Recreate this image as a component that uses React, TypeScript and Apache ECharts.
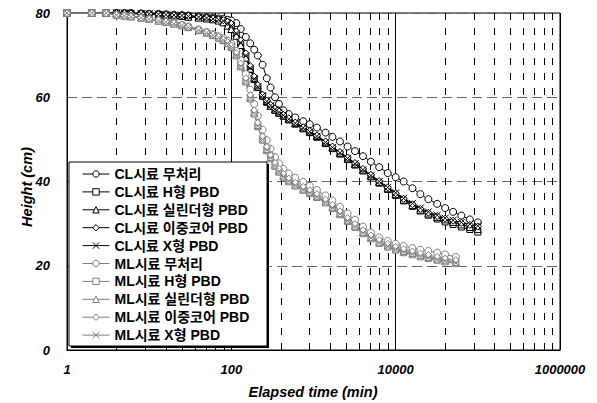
import React, { useEffect, useRef } from "react";
import * as echarts from "echarts";

// Elapsed time (min) of the readings
const timesCL = [1, 2, 3, 4, 5, 6, 8, 10, 13, 16, 20, 25, 30, 40, 50, 60, 70, 80, 90, 100,
  115, 130, 150, 170, 190, 210, 240, 270, 300, 340, 380, 430, 500, 600, 750, 900, 1100, 1400, 1700, 2100,
  2600, 3200, 4000, 5000, 6300, 8000, 10000, 12500, 16000, 20000, 25000, 32000, 40000, 50000, 63000, 80000, 100000];
const timesML = [1, 2, 3, 4, 5, 6, 8, 10, 13, 16, 20, 25, 30, 40, 50, 60, 70, 80, 90, 100,
  115, 130, 150, 170, 190, 210, 240, 270, 300, 340, 380, 430, 500, 600, 750, 900, 1100, 1400, 1700, 2100,
  2600, 3200, 4000, 5000, 6300, 8000, 10000, 12500, 16000, 20000, 25000, 32000, 40000, 54000];

// Height (cm)
const clNone = [80, 80, 80, 80, 80, 80, 79.9, 79.8, 79.8, 79.7, 79.6, 79.5, 79.4, 79.2, 79.0, 78.9, 78.7, 78.6, 78.4, 78.2,
  77.6, 76.2, 74.3, 72.8, 71.3, 69.9, 67.7, 64.5, 62.3, 60.0, 58.4, 56.9, 56.0, 55.2, 54.3, 53.6, 52.8, 51.6, 50.6, 49.5,
  48.3, 47.2, 46.0, 44.7, 43.4, 42.0, 41.0, 40.0, 38.4, 37.0, 35.8, 34.7, 33.7, 32.8, 31.9, 31.0, 30.3];
const clH = [80, 80, 80, 80, 79.9, 79.9, 79.8, 79.7, 79.6, 79.5, 79.4, 79.3, 79.2, 79.0, 78.8, 78.6, 78.4, 78.1, 77.7, 77.0,
  75.0, 72.8, 69.6, 66.6, 64.2, 62.3, 60.2, 58.8, 57.8, 56.9, 56.2, 55.5, 54.6, 53.6, 52.5, 51.6, 50.5, 49.0, 47.8, 46.5,
  45.2, 43.9, 42.5, 41.1, 39.6, 38.1, 36.7, 35.4, 34.1, 33.0, 32.0, 31.1, 30.4, 29.8, 29.2, 28.6, 28.0];
const clCyl = [80, 80, 80, 80, 79.9, 79.9, 79.8, 79.7, 79.6, 79.5, 79.4, 79.3, 79.1, 78.9, 78.7, 78.5, 78.2, 77.8, 77.0, 76.2,
  74.6, 72.4, 69.4, 66.8, 64.6, 62.8, 60.6, 59.1, 58.0, 57.1, 56.4, 55.7, 54.9, 53.9, 52.8, 51.9, 50.8, 49.3, 48.1, 46.8,
  45.5, 44.2, 42.8, 41.4, 39.9, 38.4, 37.0, 35.7, 34.4, 33.3, 32.4, 31.6, 31.0, 30.4, 29.8, 29.2, 28.7];
const clDual = [80, 80, 80, 80, 80, 79.9, 79.9, 79.8, 79.7, 79.6, 79.5, 79.4, 79.3, 79.1, 78.9, 78.7, 78.5, 78.3, 77.9, 77.4,
  75.6, 73.5, 70.4, 67.4, 64.9, 62.9, 60.6, 59.2, 58.2, 57.3, 56.6, 55.8, 55.0, 54.0, 52.9, 52.0, 50.9, 49.5, 48.3, 47.0,
  45.7, 44.4, 43.0, 41.6, 40.1, 38.6, 37.2, 35.9, 34.6, 33.5, 32.6, 31.8, 31.2, 30.7, 30.2, 29.7, 29.3];
const clX = [80, 80, 80, 80, 80, 79.9, 79.8, 79.8, 79.7, 79.6, 79.5, 79.4, 79.2, 79.0, 78.8, 78.6, 78.4, 78.1, 77.6, 77.0,
  75.2, 73.0, 69.9, 66.9, 64.4, 62.5, 60.4, 59.0, 58.0, 57.1, 56.4, 55.7, 54.8, 53.8, 52.7, 51.8, 50.7, 49.3, 48.1, 46.8,
  45.5, 44.2, 42.8, 41.4, 40.0, 38.6, 37.3, 36.0, 34.8, 33.7, 32.8, 32.0, 31.3, 30.8, 30.3, 29.9, 29.5];
const mlNone = [80, 80, 80, 79.6, 79.4, 79.2, 78.9, 78.6, 78.3, 78.0, 77.6, 77.2, 76.8, 76.1, 75.5, 75.0, 74.5, 74.0, 73.4, 72.7,
  71.0, 68.8, 65.5, 61.8, 58.4, 55.6, 52.3, 49.8, 47.8, 45.8, 44.3, 43.0, 41.9, 40.9, 39.9, 39.0, 38.0, 36.7, 35.5, 34.0,
  32.4, 30.9, 29.3, 27.9, 26.7, 25.9, 25.2, 24.7, 24.2, 23.8, 23.5, 23.1, 22.7, 22.1];
const mlH = [80, 80, 80, 79.5, 79.3, 79.1, 78.8, 78.5, 78.1, 77.8, 77.4, 77.0, 76.5, 75.8, 75.2, 74.6, 74.0, 73.4, 72.7, 71.8,
  69.8, 67.2, 63.6, 59.6, 56.0, 53.0, 49.8, 47.3, 45.4, 43.6, 42.2, 41.0, 39.9, 38.9, 37.9, 37.1, 36.2, 34.9, 33.6, 32.1,
  30.5, 29.1, 27.6, 26.4, 25.3, 24.4, 23.7, 23.1, 22.6, 22.1, 21.7, 21.3, 20.9, 20.5];
const mlCyl = [80, 80, 80, 79.6, 79.4, 79.2, 78.9, 78.6, 78.2, 77.9, 77.5, 77.1, 76.7, 76.0, 75.4, 74.8, 74.2, 73.6, 72.9, 72.1,
  70.2, 67.6, 64.0, 60.0, 56.4, 53.4, 50.2, 47.7, 45.8, 44.0, 42.6, 41.4, 40.3, 39.3, 38.3, 37.5, 36.6, 35.3, 34.0, 32.5,
  30.9, 29.5, 28.0, 26.8, 25.7, 24.8, 24.1, 23.5, 23.0, 22.5, 22.1, 21.7, 21.3, 20.9];
const mlDual = [80, 80, 80, 79.6, 79.4, 79.2, 78.9, 78.6, 78.3, 78.0, 77.6, 77.2, 76.8, 76.1, 75.5, 74.9, 74.3, 73.7, 73.1, 72.3,
  70.5, 68.0, 64.5, 60.5, 56.9, 53.9, 50.7, 48.2, 46.2, 44.4, 43.0, 41.8, 40.7, 39.7, 38.7, 37.9, 37.0, 35.7, 34.4, 32.9,
  31.3, 29.9, 28.4, 27.2, 26.1, 25.2, 24.5, 23.9, 23.4, 22.9, 22.5, 22.1, 21.7, 21.3];
const mlX = [80, 80, 80, 79.5, 79.3, 79.1, 78.8, 78.5, 78.1, 77.8, 77.4, 77.0, 76.6, 75.9, 75.3, 74.7, 74.1, 73.5, 72.8, 72.0,
  70.0, 67.4, 63.8, 59.8, 56.2, 53.2, 50.0, 47.5, 45.6, 43.8, 42.4, 41.2, 40.1, 39.1, 38.1, 37.3, 36.4, 35.1, 33.8, 32.3,
  30.7, 29.3, 27.8, 26.6, 25.5, 24.6, 23.9, 23.3, 22.8, 22.3, 21.9, 21.5, 21.1, 20.7];

const seriesNames = [
  "CL시료 무처리", "CL시료 H형 PBD", "CL시료 실린더형 PBD", "CL시료 이중코어 PBD", "CL시료 X형 PBD",
  "ML시료 무처리", "ML시료 H형 PBD", "ML시료 실린더형 PBD", "ML시료 이중코어 PBD", "ML시료 X형 PBD",
];
const yTicks = [0, 20, 40, 60, 80];
const minorGridX = [4, 9, 16, 25, 36, 49, 64, 81, 400, 900, 1600, 2500, 3600, 4900, 6400, 8100,
  40000, 90000, 160000, 250000, 360000, 490000, 640000, 810000];
const xTitle = "Elapsed time (min)";
const yTitle = "Height (cm)";

const X_PATH = "path://M0,0L10,10M0,10L10,0";
const FONT = "'Liberation Sans', Arial, 'Noto Sans CJK KR', sans-serif";

export default function App() {
  const ref = useRef<HTMLDivElement>(null);
  useEffect(() => {
    const chart = echarts.init(ref.current!, null, { renderer: "svg" });
    const groups = [
      { times: timesCL, sets: [clNone, clH, clCyl, clDual, clX], color: "#000000" },
      { times: timesML, sets: [mlNone, mlH, mlCyl, mlDual, mlX], color: "#808080" },
    ];
    const symbols = ["circle", "rect", "triangle", "diamond", X_PATH];
    const sizes = [7, 6, 7, 7, 7];
    const series: any[] = [];
    groups.forEach((g, gi) => {
      g.sets.forEach((vals, si) => {
        const s: any = {
          name: seriesNames[gi * 5 + si],
          type: "line",
          data: g.times.map((t, i) => [t, vals[i]]),
          symbol: symbols[si],
          symbolSize: sizes[si],
          showAllSymbol: true,
          lineStyle: { color: g.color, width: 1 },
          itemStyle: { color: si === 4 ? g.color : "#ffffff", borderColor: g.color, borderWidth: 1 },
          emphasis: { disabled: true },
          z: 3,
        };
        if (gi === 0 && si === 0) {
          s.markLine = {
            silent: true,
            symbol: "none",
            z: 1,
            label: { show: false },
            lineStyle: { color: "#000", type: [7, 8], width: 1 },
            data: minorGridX.map((v) => ({ xAxis: v })),
          };
        }
        series.push(s);
      });
    });
    const titleStyle = { fontFamily: FONT, fontSize: 14.5, fontWeight: "bold", fontStyle: "italic", fill: "#000", align: "center", verticalAlign: "middle" };
    chart.setOption({
      animation: false,
      grid: { left: 67, right: 37, top: 13, bottom: 53, show: true, borderColor: "#000", borderWidth: 1 },
      xAxis: {
        type: "log",
        logBase: 100,
        min: 1,
        max: 1000000,
        axisLine: { lineStyle: { color: "#000" } },
        axisTick: { show: false },
        axisLabel: {
          margin: 13,
          fontFamily: FONT, fontSize: 13, fontWeight: "bold", fontStyle: "italic", color: "#000",
          formatter: (v: number) => String(Math.round(v)),
        },
        splitLine: { show: true, lineStyle: { color: "#000", width: 1 } },
      },
      yAxis: {
        type: "value",
        min: yTicks[0],
        max: yTicks[yTicks.length - 1],
        interval: 20,
        axisLine: { show: true, lineStyle: { color: "#000" } },
        axisTick: { show: false },
        axisLabel: { margin: 17, fontFamily: FONT, fontSize: 13, fontWeight: "bold", fontStyle: "italic", color: "#000" },
        splitLine: { show: true, lineStyle: { color: "#666", type: [10, 5], width: 1 } },
      },
      legend: {
        data: seriesNames,
        orient: "vertical",
        left: 82,
        top: 167,
        padding: 0,
        itemWidth: 27,
        itemHeight: 8,
        itemGap: 3.9,
        selectedMode: false,
        z: 30,
        lineStyle: { width: 1 },
        itemStyle: { borderWidth: 1 },
        textStyle: { fontFamily: FONT, fontSize: 14, fontWeight: "bold", color: "#000", lineHeight: 14 },
      },
      graphic: [
        { type: "rect", z: 20, shape: { x: 71, y: 164, width: 198, height: 184 }, style: { fill: "#000" } },
        { type: "rect", z: 21, shape: { x: 69, y: 162, width: 198, height: 184 }, style: { fill: "#fff", stroke: "#000", lineWidth: 1 } },
        { type: "text", z: 22, x: 313, y: 392, style: { ...titleStyle, text: xTitle } },
        { type: "text", z: 22, x: 27, y: 187, rotation: Math.PI / 2, style: { ...titleStyle, text: yTitle } },
      ],
      series,
    });
    return () => chart.dispose();
  }, []);
  return <div ref={ref} style={{ position: "absolute", left: 0, top: 0, width: 597, height: 403 }} />;
}
